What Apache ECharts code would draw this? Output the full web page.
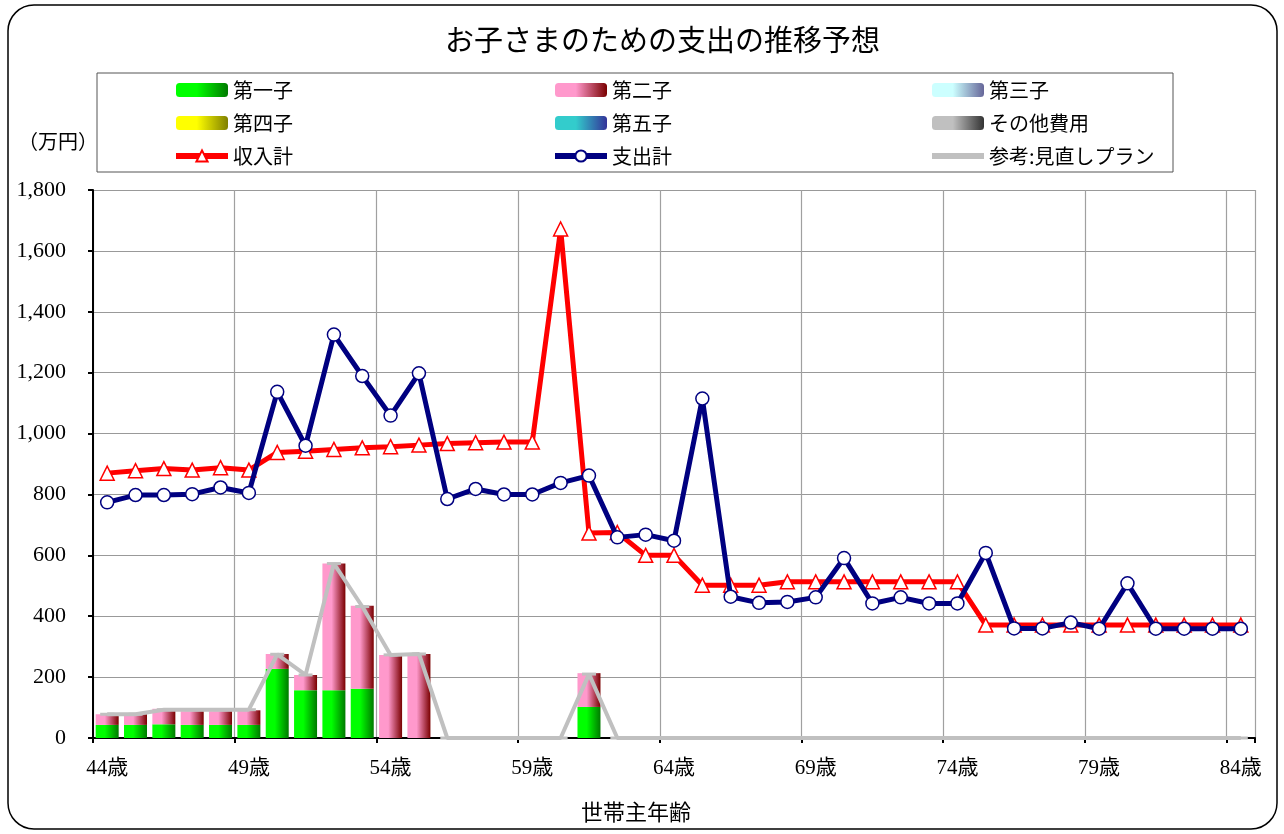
<!DOCTYPE html>
<html>
<head>
<meta charset="utf-8">
<script src="https://cdn.jsdelivr.net/npm/echarts@6/dist/echarts.min.js"></script>
<style>
  html, body { margin: 0; padding: 0; background: #fff; }
  #chart { width: 1284px; height: 834px; }
</style>
</head>
<body>
<div id="chart"></div>
<script>
const ages = ["44歳", "45歳", "46歳", "47歳", "48歳", "49歳", "50歳", "51歳", "52歳", "53歳",
  "54歳", "55歳", "56歳", "57歳", "58歳", "59歳", "60歳", "61歳", "62歳", "63歳",
  "64歳", "65歳", "66歳", "67歳", "68歳", "69歳", "70歳", "71歳", "72歳", "73歳",
  "74歳", "75歳", "76歳", "77歳", "78歳", "79歳", "80歳", "81歳", "82歳", "83歳", "84歳"];

const child1 = [43, 43, 45, 43, 43, 43, 227, 157, 157, 162, 0, 0, 0, 0, 0, 0, 0, 102, 0, 0,
  0, 0, 0, 0, 0, 0, 0, 0, 0, 0, 0, 0, 0, 0, 0, 0, 0, 0, 0, 0, 0];
const child2 = [35, 35, 51, 45, 45, 48, 49, 50, 416, 272, 273, 276, 0, 0, 0, 0, 0, 111, 0, 0,
  0, 0, 0, 0, 0, 0, 0, 0, 0, 0, 0, 0, 0, 0, 0, 0, 0, 0, 0, 0, 0];
const child3 = [];
const child4 = [];
const child5 = [];
const otherCost = [];

const income = [870, 878, 885, 880, 888, 880, 938, 942, 948, 953, 957, 962, 967, 970, 972, 972,
  1672, 673, 675, 600, 600, 502, 502, 502, 513, 513, 513, 513, 513, 513, 513, 371,
  371, 371, 371, 371, 371, 371, 371, 371, 371];
const expense = [774, 798, 798, 801, 823, 805, 1137, 960, 1325, 1189, 1059, 1198, 785, 818, 800, 800,
  838, 862, 659, 668, 648, 1115, 464, 444, 447, 462, 591, 442, 462, 442, 442, 608,
  360, 360, 379, 359, 508, 359, 359, 359, 359];
const plan = [78, 78, 93, 93, 93, 93, 275, 207, 573, 432, 273, 276, 0, 0, 0, 0, 0, 210, 0, 0,
  0, 0, 0, 0, 0, 0, 0, 0, 0, 0, 0, 0, 0, 0, 0, 0, 0, 0, 0, 0, 0];

const grad = (light, dark) => ({
  type: "linear", x: 0, y: 0, x2: 1, y2: 0,
  colorStops: [
    { offset: 0, color: light },
    { offset: 0.4, color: light },
    { offset: 1, color: dark },
  ],
});

const barSeries = (name, data, light, dark) => ({
  name: name,
  type: "bar",
  stack: "cost",
  data: data,
  barWidth: 23,
  itemStyle: { color: grad(light, dark) },
});

const JP = "'Noto Sans CJK JP', sans-serif";
const SERIF = "'Liberation Serif', 'Noto Sans CJK JP', serif";

const legendBase = {
  orient: "vertical",
  top: 75,
  itemWidth: 52,
  itemHeight: 14,
  itemGap: 13,
  itemTextGap: 5,
  textStyle: { fontSize: 20, lineHeight: 20, color: "#000", fontFamily: JP },
};

// thick line icons in the legend like the original
const lineItem = (name, hideSymbol) => ({
  name: name,
  lineStyle: { width: 6 },
  itemStyle: hideSymbol ? { opacity: 0 } : undefined,
});

const chart = echarts.init(document.getElementById("chart"));
chart.setOption({
  animation: false,
  backgroundColor: "#fff",
  title: {
    text: "お子さまのための支出の推移予想",
    left: 440,
    top: 20,
    textStyle: { fontSize: 29, fontWeight: "normal", color: "#000", fontFamily: JP },
  },
  legend: [
    Object.assign({ left: 168, data: ["第一子", "第四子", lineItem("収入計")] }, legendBase),
    Object.assign({ left: 547, data: ["第二子", "第五子", lineItem("支出計")] }, legendBase),
    Object.assign({ left: 924, data: ["第三子", "その他費用", lineItem("参考:見直しプラン", true)] }, legendBase),
  ],
  graphic: [
    {
      type: "rect",
      shape: { x: 8, y: 5, width: 1269, height: 824, r: 26 },
      style: { fill: "none", stroke: "#000", lineWidth: 1.5 },
    },
    {
      type: "rect",
      shape: { x: 97, y: 73, width: 1076, height: 99 },
      style: { fill: "none", stroke: "#555", lineWidth: 1 },
    },
    {
      type: "text",
      left: 18,
      top: 131,
      style: { text: "（万円）", fill: "#000", font: "20px " + JP },
    },
    {
      type: "text",
      x: 636,
      y: 812,
      style: { text: "世帯主年齢", fill: "#000", font: "22px " + JP, align: "center", verticalAlign: "middle" },
    },
  ],
  grid: { left: 93, top: 190, right: 29, bottom: 96, containLabel: false },
  xAxis: {
    type: "category",
    data: ages,
    boundaryGap: true,
    axisLine: { lineStyle: { color: "#000", width: 2 } },
    axisTick: { show: true, interval: 4, length: 5, lineStyle: { color: "#000", width: 2 } },
    axisLabel: { interval: 4, fontSize: 21, color: "#000", fontFamily: SERIF, margin: 20 },
    splitLine: { show: true, interval: 4, lineStyle: { color: "#a0a0a0", width: 1.2 } },
  },
  yAxis: {
    type: "value",
    min: 0,
    max: 1800,
    interval: 200,
    axisLine: { show: true, lineStyle: { color: "#000", width: 2 } },
    axisTick: { show: true, inside: false, length: 5, lineStyle: { color: "#000", width: 2 } },
    axisLabel: {
      fontSize: 22,
      color: "#000",
      fontFamily: SERIF,
      margin: 27,
      formatter: (v) => v.toLocaleString("en-US"),
    },
    splitLine: { lineStyle: { color: "#999", width: 1.2 } },
  },
  series: [
    barSeries("第一子", child1, "#00ff00", "#007a00"),
    barSeries("第二子", child2, "#ff99cc", "#7a0000"),
    barSeries("第三子", child3, "#ccffff", "#666699"),
    barSeries("第四子", child4, "#ffff00", "#808000"),
    barSeries("第五子", child5, "#33cccc", "#333399"),
    barSeries("その他費用", otherCost, "#c0c0c0", "#333333"),
    {
      name: "参考:見直しプラン",
      type: "line",
      data: plan,
      symbol: "rect",
      symbolSize: [14, 3],
      showAllSymbol: true,
      lineStyle: { color: "#c0c0c0", width: 4 },
      itemStyle: { color: "#c0c0c0" },
      z: 3,
    },
    {
      name: "収入計",
      type: "line",
      data: income,
      symbol: "triangle",
      symbolSize: 14,
      showAllSymbol: true,
      lineStyle: { color: "#ff0000", width: 5 },
      itemStyle: { color: "#fff", borderColor: "#ff0000", borderWidth: 1.5 },
      z: 4,
    },
    {
      name: "支出計",
      type: "line",
      data: expense,
      symbol: "circle",
      symbolSize: 13,
      showAllSymbol: true,
      lineStyle: { color: "#000080", width: 5 },
      itemStyle: { color: "#fff", borderColor: "#000080", borderWidth: 1.5 },
      z: 5,
    },
  ],
});
</script>
</body>
</html>
